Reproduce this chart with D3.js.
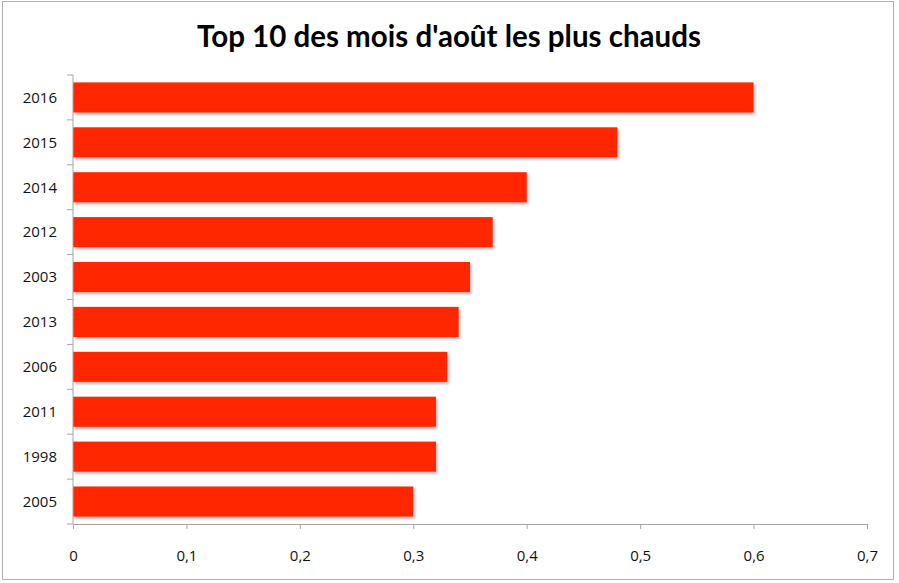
<!DOCTYPE html>
<html>
<head>
<meta charset="utf-8">
<script src="https://cdn.jsdelivr.net/npm/d3@7"></script>
<style>
  body { margin: 0; background: #fff; }
  .axis path, .axis line { stroke: #a6a6a6; }
  .axis text { font-family: "Open Sans", sans-serif; font-size: 15px; fill: #111; }
</style>
</head>
<body>
<div id="vis"></div>
<script>
const FRAME_WIDTH = 899;
const FRAME_HEIGHT = 583;
const MARGINS = {left: 73, right: 32, top: 75, bottom: 59};

const YEARS = ["2016", "2015", "2014", "2012", "2003", "2013", "2006", "2011", "1998", "2005"];
const ANOMALY = [0.6, 0.48, 0.40, 0.37, 0.35, 0.34, 0.33, 0.32, 0.32, 0.30];
const X_TICKS = [0, 0.1, 0.2, 0.3, 0.4, 0.5, 0.6, 0.7];

const X_SCALE = d3.scaleLinear()
  .domain([0, 0.7])
  .range([MARGINS.left, FRAME_WIDTH - MARGINS.right]);

const Y_SCALE = d3.scaleBand()
  .domain(YEARS)
  .range([MARGINS.top, FRAME_HEIGHT - MARGINS.bottom])
  .paddingInner(0.33)
  .paddingOuter(0.165);

const FRAME = d3.select("#vis")
  .append("svg")
    .attr("width", FRAME_WIDTH)
    .attr("height", FRAME_HEIGHT);

// soft shadow under bars
const defs = FRAME.append("defs");
const filt = defs.append("filter").attr("id", "shadow")
  .attr("x", "-5%").attr("y", "-20%").attr("width", "110%").attr("height", "160%");
filt.append("feDropShadow")
  .attr("dx", 1.5).attr("dy", 2).attr("stdDeviation", 1.5)
  .attr("flood-color", "#000").attr("flood-opacity", 0.3);

// outer frame
FRAME.append("rect")
  .attr("x", 2.5).attr("y", 1.5)
  .attr("width", 891).attr("height", 578)
  .attr("fill", "none")
  .attr("stroke", "#b0b0b0");

// title
FRAME.append("text")
  .attr("x", 449).attr("y", 47)
  .attr("text-anchor", "middle")
  .attr("font-family", "Lato, 'Open Sans', sans-serif")
  .attr("font-weight", "bold")
  .attr("font-size", 29.5)
  .attr("fill", "#000")
  .text("Top 10 des mois d'août les plus chauds");

// bars
FRAME.selectAll(".bar")
  .data(YEARS)
  .enter()
  .append("rect")
    .attr("class", "bar")
    .attr("x", X_SCALE(0))
    .attr("y", (d) => Y_SCALE(d))
    .attr("width", (d, i) => X_SCALE(ANOMALY[i]) - X_SCALE(0))
    .attr("height", Y_SCALE.bandwidth())
    .attr("fill", "#ff2600")
    .attr("filter", "url(#shadow)");

// axes
const fmt = (d) => d3.format("")(d).replace(".", ",");

FRAME.append("g")
  .attr("class", "axis")
  .attr("transform", "translate(0," + (FRAME_HEIGHT - MARGINS.bottom) + ")")
  .call(d3.axisBottom(X_SCALE).tickValues(X_TICKS).tickFormat(fmt).tickSize(5).tickSizeOuter(5).tickPadding(21));

// category axis with ticks between bands
const yAxis = FRAME.append("g")
  .attr("class", "axis")
  .attr("transform", "translate(" + MARGINS.left + ",0)");
yAxis.append("line")
  .attr("x1", 0).attr("x2", 0)
  .attr("y1", MARGINS.top).attr("y2", FRAME_HEIGHT - MARGINS.bottom);
const bounds = d3.range(YEARS.length + 1).map((i) => MARGINS.top + i * Y_SCALE.step() + Y_SCALE.step() * Y_SCALE.paddingOuter() - Y_SCALE.step() * Y_SCALE.paddingOuter());
yAxis.selectAll(".sep")
  .data(bounds)
  .enter()
  .append("line")
    .attr("x1", -6).attr("x2", 0)
    .attr("y1", (d) => d).attr("y2", (d) => d);
yAxis.selectAll(".lab")
  .data(YEARS)
  .enter()
  .append("text")
    .attr("x", -16)
    .attr("y", (d) => Y_SCALE(d) + Y_SCALE.bandwidth() / 2)
    .attr("dy", "0.35em")
    .attr("text-anchor", "end")
    .text((d) => d);
</script>
</body>
</html>
